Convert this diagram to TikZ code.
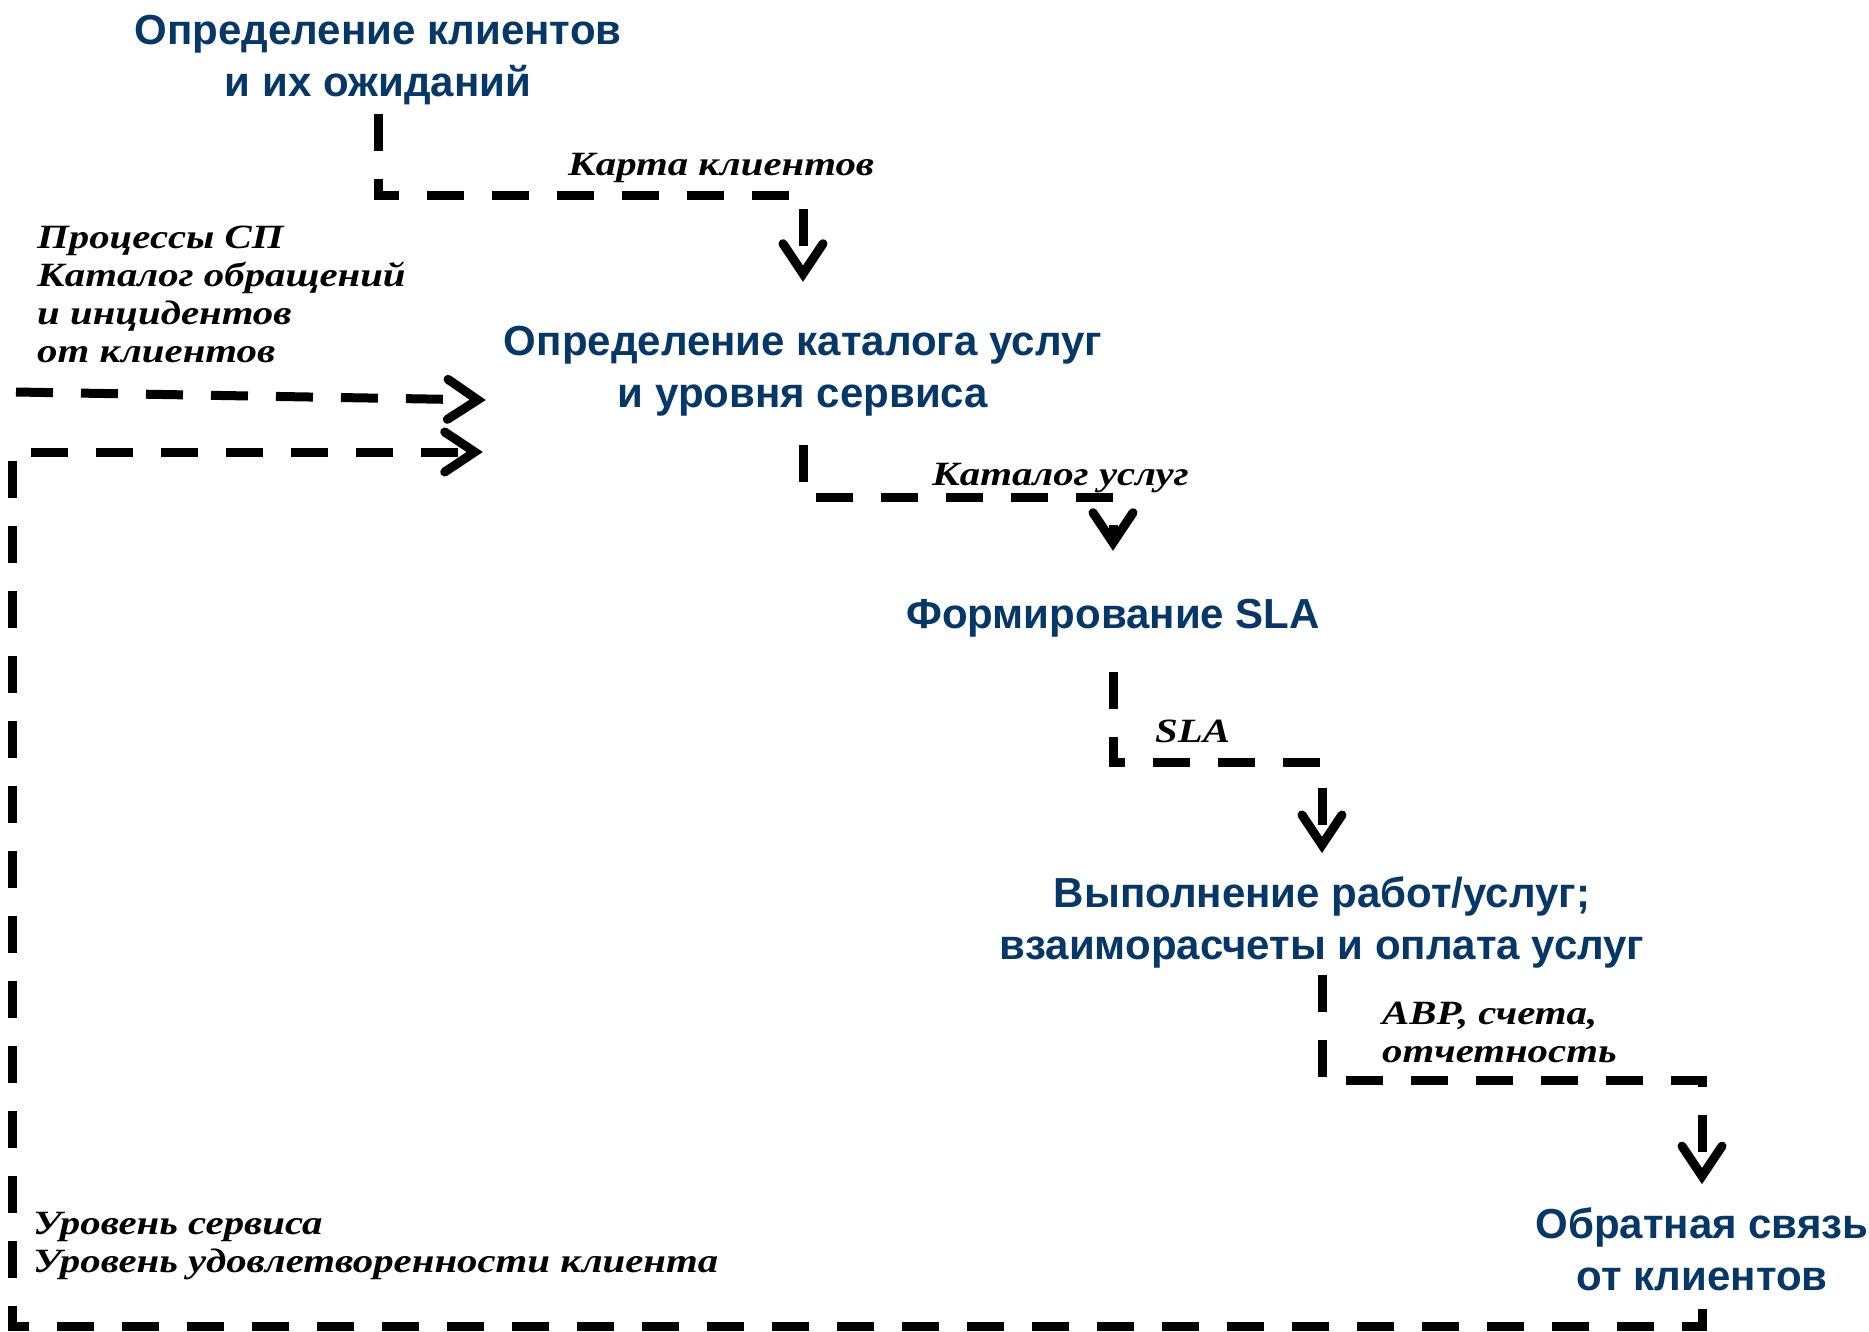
\documentclass[tikz,border=0pt]{standalone}
\usepackage{fontspec}
\setmainfont{Liberation Sans}
\newfontfamily\handfont[FakeStretch=1.2]{Liberation Serif}
\usepackage{tikz}
\usetikzlibrary{arrows.meta}
\definecolor{stageblue}{RGB}{6,55,102}
\tikzset{stage/.style={text=stageblue,font=\bfseries\fontsize{42}{52}\selectfont,align=center,inner sep=0pt}}
\tikzset{hnote/.style={font=\handfont\bfseries\itshape\fontsize{34}{38}\selectfont,align=left,inner sep=0pt,anchor=base west}}
\tikzset{dflow/.style={line width=9pt,dash pattern=on 37pt off 28pt,-{Straight Barb[length=30pt,width=40pt,line cap=round]}}}

\begin{document}
\begin{tikzpicture}[x=1pt,y=-1pt]
  \useasboundingbox (0,0) rectangle (1869,1331);

  \node[stage] (clients) at (378,60) {Определение клиентов\\и их ожиданий};
  \node[stage] (catalog) at (803,371) {Определение каталога услуг\\и уровня сервиса};
  \node[stage] (sla) at (1113,618) {Формирование SLA};
  \node[stage] (works) at (1322,922) {Выполнение работ/услуг;\\взаиморасчеты и оплата услуг};
  \node[stage] (feedback) at (1702,1249) {Обратная связь\\от клиентов};

  \node[hnote] (mapnote) at (568,175) {Карта клиентов};
  \node[hnote] (catnote) at (932,485) {Каталог услуг};
  \node[hnote] (slanote) at (1155,742) {SLA};
  \node[hnote] (billnote) at (1382,1062) {АВР, счета,\\отчетность};
  \node[hnote] (procnote) at (37,362) {Процессы СП\\Каталог обращений\\и инцидентов\\от клиентов};
  \node[hnote] (levelnote) at (33,1272) {Уровень сервиса\\Уровень удовлетворенности клиента};

  \coordinate (procin) at (16,392);
  \coordinate (loopcorner) at (12,1326);

  \draw[dflow] ([yshift=-9pt]clients.south) -- ++(0,81) -| ([yshift=44pt]catalog.north);
  \draw[dflow] ([yshift=-29pt]catalog.south) -- ++(0,52) -| ([yshift=48pt]sla.north);
  \draw[dflow] ([yshift=-35pt]sla.south) -- ++(0,90) -| ([yshift=23pt]works.north);
  \draw[dflow] ([yshift=-7pt]works.south) -- ++(0,106) -| ([yshift=23pt]feedback.north);
  \draw[dflow] (procin) -- ([xshift=-18pt,yshift=-29pt]catalog.west);
  \draw[dflow] ([yshift=-18pt]feedback.south) |- (loopcorner) |- ([xshift=-21pt,yshift=-81pt]catalog.west);
\end{tikzpicture}
\end{document}
